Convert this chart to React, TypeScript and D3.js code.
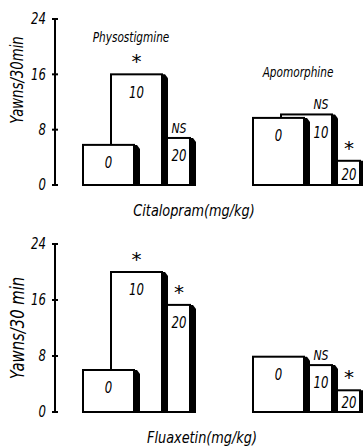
import React from 'react'
import * as d3 from 'd3'

// yawning after physostigmine / apomorphine, with SSRI pretreatment doses

const doses = ['0', '10', '20']
const groups = ['Physostigmine', 'Apomorphine']
const yTicks = [0, 8, 16, 24]

const citalopramPhyso = [5.8, 16, 6.8]
const citalopramApo = [9.7, 10.2, 3.5]
const citalopramSig = [['', '*', 'NS'], ['', 'NS', '*']]

const fluoxetinPhyso = [6, 20, 15.3]
const fluoxetinApo = [7.9, 6.7, 3.1]
const fluoxetinSig = [['', '*', '*'], ['', 'NS', '*']]

const FONT = "'DejaVu Sans', sans-serif"

const W = 363
const H = 448
const BAR_W = 51
const SHADOW = 6

const xGroup = d3.scaleBand<string>().domain(groups).range([83, 423])
const xDose = d3.scaleLinear().domain([0, 1]).range([0, 28])

// condensed italic text (no narrow font installed, so squeeze it)
function CText({x, y, size, anchor = 'middle', rotate = 0, sx = 0.78, children}: any) {
  return (
    <text transform={`translate(${x},${y}) rotate(${rotate}) scale(${sx},1)`} dy="0.35em"
      textAnchor={anchor} fontSize={size} fontStyle="italic" fontFamily={FONT}>{children}</text>
  )
}

function Panel({y0, y1, data, sig, title, yTitle, showGroups}: any) {
  const y = d3.scaleLinear().domain([0, 24]).range([y0, y1])

  return (
    <g>
      {/* y axis */}
      <line x1={55} x2={55} y1={y(0)} y2={y(24)} stroke="black" strokeWidth={2} />
      {yTicks.map(t => (
        <g key={t}>
          <line x1={52} x2={58} y1={y(t)} y2={y(t)} stroke="black" strokeWidth={2} />
          <CText x={46} y={y(t)} size={15} anchor="end">{t}</CText>
        </g>
      ))}
      <CText x={17} y={yTitle.y} size={yTitle.size} rotate={-90}>{yTitle.text}</CText>

      {groups.map((g, gi) => {
        const vals: number[] = data[gi]
        const gx = xGroup(g)!
        const bars = vals.map((v, i) => {
          const left = gx + xDose(i)
          const right = left + BAR_W
          const top = y(v)
          let cx = (left + right) / 2
          const labelY = Math.min(top + 18, (top + y0) / 2 + 2)
          // label sits on the visible strip when it is below the previous bar's top
          if (i > 0) {
            const prevTop = y(vals[i - 1])
            const prevEnd = gx + xDose(i - 1) + BAR_W + SHADOW
            if (labelY > prevTop - 6) cx = (prevEnd + right) / 2
          }
          return {v, i, left, right, top, cx, labelY}
        })
        const lastEnd = bars[bars.length - 1].right + SHADOW
        return (
          <g key={g}>
            {bars.slice().reverse().map(b => (
              <g key={b.i}>
                <path
                  d={`M${b.right},${b.top} L${b.right + 3},${b.top} L${b.right + SHADOW},${b.top + 4} L${b.right + SHADOW},${y0} L${b.right},${y0} Z`}
                  fill="black" />
                <rect x={b.left} y={b.top} width={BAR_W} height={y0 - b.top}
                  fill="white" stroke="black" strokeWidth={2} />
              </g>
            ))}
            <line x1={gx} x2={Math.min(lastEnd, W)} y1={y0} y2={y0} stroke="black" strokeWidth={2} />
            {bars.map(b => (
              <CText key={'l' + b.i} x={b.cx} y={b.labelY} size={15}>{doses[b.i]}</CText>
            ))}
            {bars.map(b => sig[gi][b.i] === '*' ? (
              <text key={'s' + b.i} x={b.cx} y={b.top - 6} textAnchor="middle"
                fontSize={20} fontFamily={FONT}>*</text>
            ) : sig[gi][b.i] ? (
              <CText key={'s' + b.i} x={b.cx} y={b.top - 10} size={14}>{sig[gi][b.i]}</CText>
            ) : null)}
          </g>
        )
      })}

      {showGroups && (
        <g>
          <CText x={131} y={37} size={13.5}>Physostigmine</CText>
          <CText x={298} y={72} size={13.5}>Apomorphine</CText>
        </g>
      )}
      <CText x={title.x} y={y0 + 25} size={16.5}>{title.text}</CText>
    </g>
  )
}

export default function App() {
  return (
    <svg width={W} height={H} style={{position: 'absolute', left: 0, top: 0, background: 'white'}}>
      <Panel y0={185} y1={19} data={[citalopramPhyso, citalopramApo]} sig={citalopramSig}
        title={{text: 'Citalopram(mg/kg)', x: 194}}
        yTitle={{text: 'Yawns/30min', y: 80, size: 17}} showGroups />
      <Panel y0={412} y1={244} data={[fluoxetinPhyso, fluoxetinApo]} sig={fluoxetinSig}
        title={{text: 'Fluaxetin(mg/kg)', x: 202}}
        yTitle={{text: 'Yawns/30 min', y: 328, size: 19}} />
    </svg>
  )
}
